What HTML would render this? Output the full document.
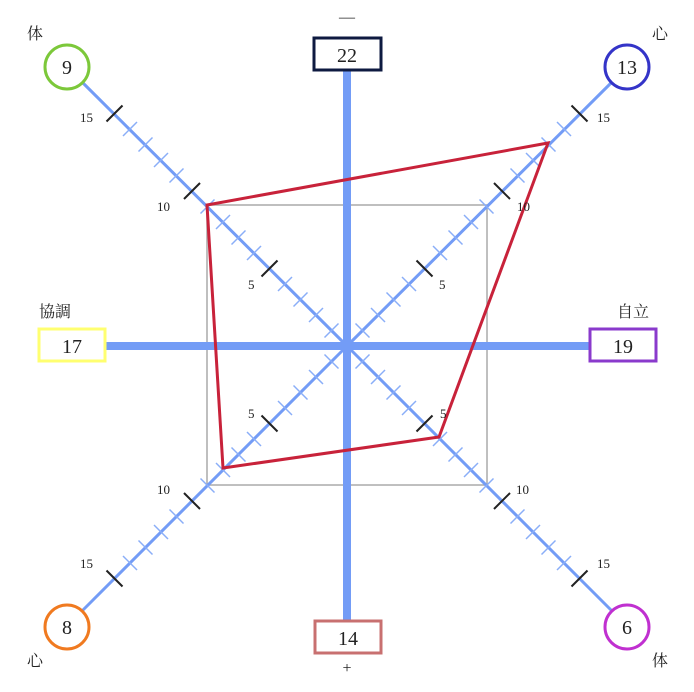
<!DOCTYPE html>
<html><head><meta charset="utf-8"><style>
body{margin:0;background:#fff}
svg{display:block}
text{font-family:"Liberation Serif","Noto Serif CJK SC",serif;fill:#222}
.j{font-family:"Liberation Sans","Noto Sans CJK JP",sans-serif;font-size:16px;fill:#333}
</style></head><body>
<svg id="s" width="694" height="692" viewBox="0 0 694 692" xmlns="http://www.w3.org/2000/svg">
<rect x="207" y="205" width="280" height="280" fill="none" stroke="#aaa" stroke-width="1.5"/>
<g id="ax" stroke="#739cf6" stroke-width="3" fill="none">
<line x1="347" y1="346" x2="82" y2="82"/>
<line x1="347" y1="346" x2="612" y2="82"/>
<line x1="347" y1="346" x2="82" y2="611"/>
<line x1="347" y1="346" x2="612" y2="611"/>
</g>
<g id="tk"></g>
<line x1="347" y1="70" x2="347" y2="620" stroke="#739cf6" stroke-width="8"/>
<line x1="105" y1="346" x2="590" y2="346" stroke="#739cf6" stroke-width="8"/>
<polygon points="207,205 548,143 439,437 223,468" fill="none" stroke="#c8223a" stroke-width="3"/>
<g font-size="13">
<text x="80" y="122">15</text><text x="157" y="211">10</text><text x="248" y="289">5</text>
<text x="597" y="122">15</text><text x="517" y="211">10</text><text x="439" y="289">5</text>
<text x="440" y="418">5</text><text x="516" y="494">10</text><text x="597" y="568">15</text>
<text x="248" y="418">5</text><text x="157" y="494">10</text><text x="80" y="568">15</text>
</g>
<g stroke-width="3" fill="#fff">
<circle cx="67" cy="67" r="22" stroke="#7cc83a"/>
<circle cx="627" cy="67" r="22" stroke="#3434c8"/>
<circle cx="67" cy="627" r="22" stroke="#f07a20"/>
<circle cx="627" cy="627" r="22" stroke="#c030d0"/>
<rect x="314" y="38" width="67" height="32" stroke="#0e1a40"/>
<rect x="39" y="329" width="66" height="32" stroke="#ffff70"/>
<rect x="590" y="329" width="66" height="32" stroke="#8a3acc"/>
<rect x="315" y="621" width="66" height="32" stroke="#c87070"/>
</g>
<g font-size="20" text-anchor="middle">
<text x="67" y="74">9</text><text x="627" y="74">13</text>
<text x="67" y="634">8</text><text x="627" y="634">6</text>
<text x="347" y="62">22</text><text x="72" y="353">17</text>
<text x="623" y="353">19</text><text x="348" y="645">14</text>
</g>
<g class="j" text-anchor="middle">
<text x="35" y="39">体</text><text x="660" y="39">心</text>
<text x="55" y="317">協調</text><text x="633" y="317">自立</text>
<text x="35" y="666">心</text><text x="660" y="666">体</text>
<text x="347" y="22">—</text><text x="347" y="673">+</text>
</g>
</svg>
<script>
var g=document.getElementById('tk'),c=[347,346],u=15.5,s='';
[[-1,-1],[1,-1],[-1,1],[1,1]].forEach(function(d){
 var p=[d[1],-d[0]];
 for(var i=1;i<=15;i++){
  var x=c[0]+d[0]*u*i,y=c[1]+d[1]*u*i,big=i%5==0,l=big?8:7;
  s+='<line x1="'+(x+p[0]*l)+'" y1="'+(y+p[1]*l)+'" x2="'+(x-p[0]*l)+'" y2="'+(y-p[1]*l)+'" stroke="'+(big?'#222':'#8aaef8')+'" stroke-width="'+(big?2:1.5)+'"/>';
 }
});
g.innerHTML=s;
</script>
</body></html>
